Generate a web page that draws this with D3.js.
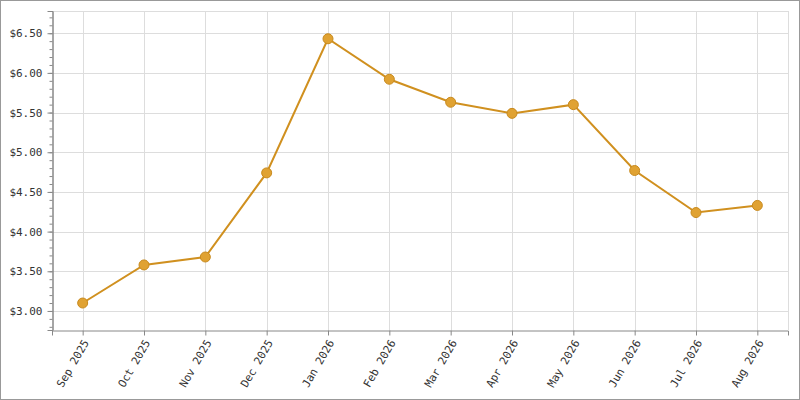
<!DOCTYPE html>
<html><head><meta charset="utf-8">
<script src="https://cdn.jsdelivr.net/npm/d3@7"></script>
<style>body{margin:0}svg{display:block}text{font-family:"DejaVu Sans Mono",monospace;font-size:11px;fill:#333}</style>
</head><body>
<script>
const months = ["Sep 2025","Oct 2025","Nov 2025","Dec 2025","Jan 2026","Feb 2026","Mar 2026","Apr 2026","May 2026","Jun 2026","Jul 2026","Aug 2026"];
const prices = [3.10, 3.58, 3.68, 4.74, 6.43, 5.92, 5.63, 5.49, 5.60, 4.77, 4.24, 4.33];
const yTicks = [3.0, 3.5, 4.0, 4.5, 5.0, 5.5, 6.0, 6.5];

const W = 800, H = 400, L = 52, R = 788, T = 11, B = 330;
const svg = d3.select("body").append("svg").attr("width", W).attr("height", H);
svg.append("rect").attr("x",0.5).attr("y",0.5).attr("width",W-1).attr("height",H-1)
  .attr("fill","#fff").attr("stroke","#999");

const x = d3.scalePoint().domain(months).range([L, R]).padding(0.5);
const y = d3.scaleLinear().domain([2.76, 6.78]).range([B, T]);

// grid
svg.append("g").selectAll("line").data(yTicks.concat([6.78])).enter().append("line")
  .attr("x1", L).attr("x2", R).attr("y1", d => Math.round(y(d))+0.5).attr("y2", d => Math.round(y(d))+0.5)
  .attr("stroke", "#ddd");
svg.append("g").selectAll("line").data(months).enter().append("line")
  .attr("y1", T).attr("y2", B).attr("x1", d => Math.round(x(d))+0.5).attr("x2", d => Math.round(x(d))+0.5)
  .attr("stroke", "#ddd");
svg.append("line").attr("x1",R+0.5).attr("x2",R+0.5).attr("y1",T).attr("y2",B).attr("stroke","#ddd");

// axes
const ya = svg.append("g").attr("transform", `translate(${L+0.5},0)`)
  .call(d3.axisLeft(y).tickValues(yTicks).tickSize(5).tickFormat(d => "$" + d.toFixed(2)));
svg.append("g").attr("transform", `translate(${L+0.5},0)`)
  .call(d3.axisLeft(y).tickValues(d3.range(28, 68).map(v => v/10)).tickSize(3).tickFormat(""));
const xa = svg.append("g").attr("transform", `translate(0,${B+0.5})`)
  .call(d3.axisBottom(x).tickSize(5));
xa.selectAll("text").attr("text-anchor","end").attr("dx","-0.3em").attr("dy","0.3em")
  .attr("transform","rotate(-60)translate(-4,0)");
svg.selectAll(".domain, .tick line").attr("stroke","#888");
ya.selectAll("text").attr("x",-10);

// line + points
svg.append("path").datum(prices)
  .attr("d", d3.line().x((d,i) => x(months[i])).y(d => y(d)))
  .attr("fill","none").attr("stroke","#d0901f").attr("stroke-width",2);
svg.append("g").selectAll("circle").data(prices).enter().append("circle")
  .attr("cx",(d,i) => x(months[i])).attr("cy", d => y(d)).attr("r",5)
  .attr("fill","#e0a232").attr("stroke","#c88a1e").attr("stroke-width",1);
</script>
</body></html>
